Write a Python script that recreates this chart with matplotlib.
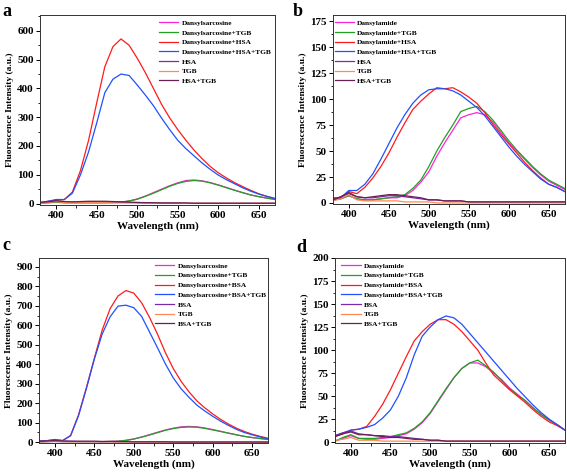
import numpy as np
import matplotlib
matplotlib.use("Agg")
import matplotlib.pyplot as plt
from matplotlib.ticker import MultipleLocator, AutoMinorLocator

plt.rcParams['font.family'] = ['Liberation Serif', 'DejaVu Serif']
plt.rcParams['font.weight'] = 'bold'

# wavelength grid (nm), 10 nm steps
wl = np.arange(380, 671, 10)

# ---- panel a : dansylsarcosine / HSA ----
a_dsar = [2, 3, 4, 3, 3, 3, 3, 3, 3, 4, 5, 9, 16, 26, 38, 50, 62, 72, 80, 82, 79, 73, 65, 56, 47, 38, 30, 24, 19, 15]
a_dsar_tgb = [2, 3, 5, 3, 3, 3, 3, 3, 3, 4, 5, 9, 15, 25, 36, 48, 60, 70, 77, 80, 78, 72, 64, 55, 46, 38, 30, 24, 19, 14]
a_dsar_hsa = [3, 8, 12, 14, 40, 115, 220, 350, 475, 545, 572, 550, 505, 455, 400, 345, 298, 257, 220, 186, 156, 129, 107, 89, 73, 59, 46, 34, 25, 18]
a_dsar_hsa_tgb = [3, 8, 14, 14, 36, 100, 180, 280, 385, 432, 450, 445, 412, 377, 340, 297, 257, 220, 191, 166, 141, 119, 99, 83, 69, 55, 43, 33, 25, 17]
a_hsa = [3, 5, 8, 6, 5, 5, 6, 6, 6, 5, 5, 4, 3, 3, 2, 2, 2, 2, 1, 1, 1, 1, 1, 1, 1, 1, 1, 1, 1, 1]
a_tgb = [2, 4, 7, 4, 3, 3, 3, 3, 3, 2, 2, 2, 2, 1, 1, 1, 1, 1, 1, 1, 1, 1, 1, 1, 1, 1, 1, 1, 1, 1]
a_hsa_tgb = [4, 6, 10, 7, 6, 7, 8, 8, 8, 7, 6, 5, 4, 3, 3, 2, 2, 2, 2, 1, 1, 1, 1, 1, 1, 1, 1, 1, 1, 1]
a_labels = ['Dansylsarcosine', 'Dansylsarcosine+TGB', 'Dansylsarcosine+HSA',
            'Dansylsarcosine+HSA+TGB', 'HSA', 'TGB', 'HSA+TGB']

# ---- panel b : dansylamide / HSA ----
b_dam = [3, 4, 7, 4, 3, 3, 4, 5, 5, 7, 12, 20, 30, 45, 58, 70, 82, 85, 87, 85, 78, 68, 58, 50, 42, 34, 27, 21, 17, 13]
b_dam_tgb = [3, 4, 7, 4, 3, 3, 4, 5, 6, 8, 14, 22, 35, 50, 63, 75, 88, 91, 93, 88, 80, 70, 60, 51, 43, 35, 28, 22, 18, 14]
b_dam_hsa = [4, 5, 11, 9, 15, 24, 35, 48, 63, 77, 90, 98, 105, 111, 110, 111, 107, 102, 96, 87, 76, 66, 57, 48, 39, 31, 24, 18, 15, 11]
b_dam_hsa_tgb = [5, 5, 12, 12, 18, 28, 42, 57, 72, 85, 96, 104, 109, 110, 110, 108, 104, 98, 92, 84, 74, 64, 54, 45, 37, 30, 23, 18, 15, 11]
b_hsa = [3, 6, 9, 6, 5, 5, 6, 7, 7, 6, 5, 4, 3, 3, 2, 2, 2, 1, 1, 1, 1, 1, 1, 1, 1, 1, 1, 1, 1, 1]
b_tgb = [2, 4, 8, 3, 2, 2, 2, 2, 2, 1, 1, 1, 1, 0, 0, 0, 0, 0, 0, 0, 0, 0, 0, 0, 0, 0, 0, 0, 0, 0]
b_hsa_tgb = [3, 6, 10, 6, 5, 6, 7, 8, 8, 7, 6, 5, 3, 3, 2, 2, 2, 1, 1, 1, 1, 1, 1, 1, 1, 1, 1, 1, 1, 1]
b_labels = ['Dansylamide', 'Dansylamide+TGB', 'Dansylamide+HSA',
            'Dansylamide+HSA+TGB', 'HSA', 'TGB', 'HSA+TGB']

# ---- panel c : dansylsarcosine / BSA ----
c_dsar = [2, 3, 4, 3, 3, 3, 3, 3, 3, 4, 6, 10, 17, 27, 39, 51, 63, 72, 79, 81, 79, 73, 65, 56, 47, 38, 30, 24, 19, 15]
c_dsar_tgb = [2, 3, 4, 3, 3, 3, 3, 3, 3, 4, 5, 9, 16, 26, 37, 49, 61, 70, 76, 78, 77, 71, 63, 55, 46, 38, 30, 24, 19, 14]
c_dsar_bsa = [5, 8, 12, 8, 35, 140, 280, 430, 575, 685, 750, 778, 765, 715, 640, 555, 460, 378, 312, 258, 212, 176, 145, 117, 93, 72, 55, 41, 30, 20]
c_dsar_bsa_tgb = [5, 8, 14, 9, 33, 135, 275, 425, 555, 643, 698, 703, 690, 645, 565, 485, 402, 330, 274, 230, 190, 160, 133, 108, 86, 66, 50, 38, 27, 18]
c_bsa = [5, 6, 8, 6, 5, 4, 4, 4, 3, 3, 3, 3, 2, 2, 2, 2, 2, 1, 1, 1, 1, 1, 1, 1, 1, 1, 1, 1, 1, 1]
c_tgb = [2, 4, 7, 4, 3, 3, 3, 3, 3, 2, 2, 2, 2, 1, 1, 1, 1, 1, 1, 1, 1, 1, 1, 1, 1, 1, 1, 1, 1, 1]
c_bsa_tgb = [4, 6, 9, 6, 5, 5, 5, 5, 4, 4, 3, 3, 2, 2, 2, 2, 2, 1, 1, 1, 1, 1, 1, 1, 1, 1, 1, 1, 1, 1]
c_labels = ['Dansylsarcosine', 'Dansylsarcosine+TGB', 'Dansylsarcosine+BSA',
            'Dansylsarcosine+BSA+TGB', 'BSA', 'TGB', 'BSA+TGB']

# ---- panel d : dansylamide / BSA ----
d_dam = [1, 4, 7, 4, 3, 3, 4, 5, 7, 9, 14, 21, 31, 44, 57, 70, 80, 86, 86, 82, 75, 68, 59, 52, 45, 37, 30, 24, 19, 13]
d_dam_tgb = [1, 5, 8, 4, 4, 4, 5, 6, 8, 10, 15, 22, 32, 45, 58, 70, 80, 86, 89, 83, 76, 67, 58, 51, 45, 37, 30, 24, 19, 13]
d_dam_bsa = [6, 9, 13, 14, 17, 28, 41, 57, 75, 93, 110, 120, 128, 133, 133, 128, 120, 110, 100, 86, 73, 65, 57, 50, 43, 35, 28, 22, 18, 13]
d_dam_bsa_tgb = [7, 10, 13, 14, 16, 19, 26, 35, 50, 70, 95, 115, 125, 133, 137, 135, 128, 118, 108, 98, 88, 78, 68, 58, 49, 40, 32, 25, 19, 13]
d_bsa = [7, 10, 12, 9, 8, 7, 7, 6, 6, 5, 4, 3, 2, 2, 1, 1, 1, 1, 1, 1, 1, 1, 1, 1, 1, 1, 1, 1, 1, 1]
d_tgb = [2, 3, 5, 2, 2, 2, 1, 1, 1, 1, 1, 1, 1, 1, 1, 1, 1, 1, 1, 1, 1, 1, 1, 1, 1, 1, 1, 1, 1, 1]
d_bsa_tgb = [6, 9, 11, 8, 8, 7, 6, 5, 5, 4, 3, 3, 2, 2, 1, 1, 1, 1, 1, 1, 1, 1, 1, 1, 1, 1, 1, 1, 1, 1]
d_labels = ['Dansylamide', 'Dansylamide+TGB', 'Dansylamide+BSA',
            'Dansylamide+BSA+TGB', 'BSA', 'TGB', 'BSA+TGB']

colors = ['#ff22dd', '#22a022', '#ff1a1a', '#2050ff', '#7a2aa8', '#ff8855', '#6a1f50']


def draw_panel(ax, series, labels, ylim, ymajor, letter, leg_xy, letter_xy):
    for y, lab, col in zip(series, labels, colors):
        ax.plot(wl, y, color=col, lw=0.9, label=lab)
    ax.set_xlim(380, 670)
    ax.set_ylim(*ylim)
    ax.xaxis.set_major_locator(MultipleLocator(50))
    ax.xaxis.set_minor_locator(AutoMinorLocator(2))
    ax.yaxis.set_major_locator(MultipleLocator(ymajor))
    ax.yaxis.set_minor_locator(AutoMinorLocator(2))
    ax.tick_params(which='major', direction='out', length=3, width=0.7, labelsize=8, pad=1.5)
    ax.tick_params(which='minor', direction='out', length=1.8, width=0.6)
    for s in ax.spines.values():
        s.set_linewidth(0.7)
        s.set_color('#333333')
    ax.set_xlabel('Wavelength (nm)', fontsize=8, fontweight='bold', labelpad=1)
    ax.set_ylabel('Fluorescence Intensity (a.u.)', fontsize=6.8, fontweight='bold', labelpad=2)
    ax.legend(loc='upper left', bbox_to_anchor=leg_xy, frameon=False, fontsize=5.3,
              handlelength=2.6, handletextpad=0.45, labelspacing=0.48, borderaxespad=0,
              borderpad=0.25)
    ax.figure.text(letter_xy[0], letter_xy[1], letter, fontsize=13, fontweight='bold',
                   ha='left', va='center')


fig = plt.figure(figsize=(5.67, 4.74), dpi=100)
ax_a = fig.add_axes([0.0705, 0.5675, 0.4145, 0.4008])
ax_b = fig.add_axes([0.587, 0.5696, 0.409, 0.3987])
ax_c = fig.add_axes([0.0688, 0.0654, 0.4039, 0.3903])
ax_d = fig.add_axes([0.5908, 0.0654, 0.4056, 0.3903])

draw_panel(ax_a, [a_dsar, a_dsar_tgb, a_dsar_hsa, a_dsar_hsa_tgb, a_hsa, a_tgb, a_hsa_tgb],
           a_labels, (-5, 655), 100, 'a', (0.5, 0.985), (0.004, 0.975))
draw_panel(ax_b, [b_dam, b_dam_tgb, b_dam_hsa, b_dam_hsa_tgb, b_hsa, b_tgb, b_hsa_tgb],
           b_labels, (-1, 181), 25, 'b', (0.0, 0.985), (0.516, 0.975))
draw_panel(ax_c, [c_dsar, c_dsar_tgb, c_dsar_bsa, c_dsar_bsa_tgb, c_bsa, c_tgb, c_bsa_tgb],
           c_labels, (-4, 945), 100, 'c', (0.5, 0.985), (0.004, 0.483))
draw_panel(ax_d, [d_dam, d_dam_tgb, d_dam_bsa, d_dam_bsa_tgb, d_bsa, d_tgb, d_bsa_tgb],
           d_labels, (-1, 200), 25, 'd', (0.02, 0.985), (0.522, 0.477))

fig.savefig('out.png', dpi=100)
